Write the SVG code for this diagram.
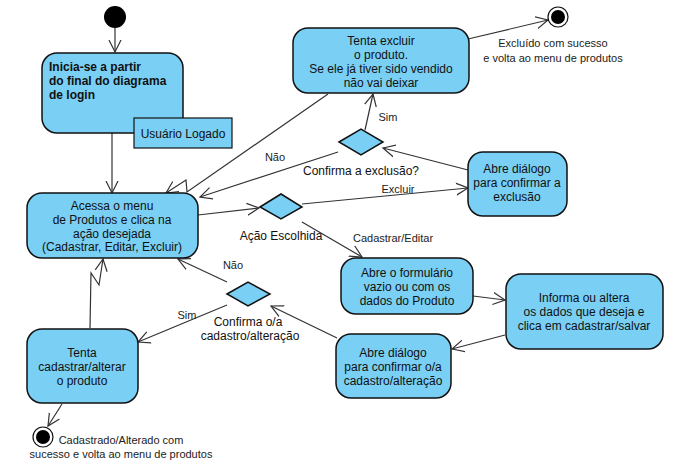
<svg xmlns="http://www.w3.org/2000/svg" width="674" height="465" viewBox="0 0 674 465">
<defs>
<style>
.node{fill:#7acff4;stroke:#111;stroke-width:1.5}
.t{font-family:"Liberation Sans",Arial,sans-serif;font-size:12px;fill:#111;text-anchor:middle}
.b{font-weight:bold;text-anchor:start}
.l{font-family:"Liberation Sans",Arial,sans-serif;font-size:11px;fill:#222;text-anchor:middle}
.e{fill:none;stroke:#333;stroke-width:1.2}
</style>
<marker id="arr" markerUnits="userSpaceOnUse" markerWidth="14" markerHeight="14" refX="12" refY="6" orient="auto" viewBox="0 0 14 12">
<path d="M0,0 L12,6 L0,12" fill="none" stroke="#333" stroke-width="1.2"/>
</marker>
</defs>

<g id="connectors">
<line class="e" x1="115" y1="28" x2="115" y2="52" marker-end="url(#arr)"/>
<line class="e" x1="112" y1="133" x2="112" y2="193" marker-end="url(#arr)"/>
<polyline class="e" points="328,94 187,192 186,180 166,193" marker-end="url(#arr)"/>
<line class="e" x1="338" y1="152" x2="200" y2="197" marker-end="url(#arr)"/>
<line class="e" x1="198" y1="215" x2="259" y2="208" marker-end="url(#arr)"/>
<line class="e" x1="302" y1="204" x2="468" y2="188" marker-end="url(#arr)"/>
<line class="e" x1="302" y1="222" x2="362" y2="257" marker-end="url(#arr)"/>
<line class="e" x1="468" y1="170" x2="383" y2="148" marker-end="url(#arr)"/>
<line class="e" x1="365" y1="130" x2="373" y2="94" marker-end="url(#arr)"/>
<line class="e" x1="468" y1="39" x2="548" y2="20" marker-end="url(#arr)"/>
<line class="e" x1="473" y1="296" x2="505" y2="300" marker-end="url(#arr)"/>
<line class="e" x1="505" y1="335" x2="452" y2="349" marker-end="url(#arr)"/>
<line class="e" x1="337" y1="338" x2="271" y2="306" marker-end="url(#arr)"/>
<line class="e" x1="227" y1="282" x2="178" y2="259" marker-end="url(#arr)"/>
<line class="e" x1="227" y1="305" x2="138" y2="342" marker-end="url(#arr)"/>
<polyline class="e" points="90,328 91,273 99,285 103,259" marker-end="url(#arr)"/>
<line class="e" x1="62" y1="404" x2="48" y2="426" marker-end="url(#arr)"/>
</g>

<g id="start"><circle cx="115" cy="17" r="11" fill="#000"/></g>

<g id="inicia">
<rect class="node" x="42" y="53" width="141" height="80" rx="15"/>
<text class="t b" x="49" y="71">Inicia-se a partir</text>
<text class="t b" x="49" y="85">do final do diagrama</text>
<text class="t b" x="49" y="99">de login</text>
</g>
<g id="usuario">
<rect x="134" y="118" width="98" height="30" fill="#7acff4" stroke="#111" stroke-width="1.2"/>
<text class="t" x="183" y="138">Usuário Logado</text>
</g>

<g id="acessa">
<rect class="node" x="27" y="193" width="171" height="65" rx="15"/>
<text class="t" x="112" y="210">Acessa o menu</text>
<text class="t" x="112" y="224">de Produtos e clica na</text>
<text class="t" x="112" y="238">ação desejada</text>
<text class="t" x="112" y="251">(Cadastrar, Editar, Excluir)</text>
</g>

<g id="tentaExcluir">
<rect class="node" x="293" y="28" width="176" height="65" rx="15"/>
<text class="t" x="381" y="45">Tenta excluir</text>
<text class="t" x="381" y="59">o produto.</text>
<text class="t" x="381" y="73">Se ele já tiver sido vendido</text>
<text class="t" x="381" y="87">não vai deixar</text>
</g>

<g id="fimExcluir">
<circle cx="558" cy="17" r="10" fill="#fff" stroke="#111" stroke-width="1.2"/>
<circle cx="558" cy="17" r="7" fill="#000"/>
<text class="l" x="553" y="47">Excluído com sucesso</text>
<text class="l" x="553" y="62">e volta ao menu de produtos</text>
</g>

<g id="confirmaExclusao">
<polygon points="339,142 361,129 383,142 361,155" class="node" stroke-width="1.2"/>
<text class="t" x="361" y="175">Confirma a exclusão?</text>
<text class="l" x="388" y="121">Sim</text>
<text class="l" x="275" y="161">Não</text>
</g>

<g id="dialogoExclusao">
<rect class="node" x="468" y="152" width="99" height="64" rx="15"/>
<text class="t" x="517" y="173">Abre diálogo</text>
<text class="t" x="517" y="187">para confirmar a</text>
<text class="t" x="517" y="201">exclusão</text>
</g>

<g id="acaoEscolhida">
<polygon points="260,207 281,194 302,207 281,219" class="node" stroke-width="1.2"/>
<text class="t" x="281" y="240">Ação Escolhida</text>
<text class="l" x="398" y="193">Excluir</text>
<text class="l" x="393" y="242">Cadastrar/Editar</text>
</g>

<g id="formulario">
<rect class="node" x="341" y="258" width="132" height="56" rx="15"/>
<text class="t" x="407" y="277">Abre o formulário</text>
<text class="t" x="407" y="291">vazio ou com os</text>
<text class="t" x="407" y="305">dados do Produto</text>
</g>

<g id="informa">
<rect class="node" x="506" y="274" width="157" height="75" rx="15"/>
<text class="t" x="584" y="302">Informa ou altera</text>
<text class="t" x="584" y="316">os dados que deseja e</text>
<text class="t" x="584" y="330">clica em cadastrar/salvar</text>
</g>

<g id="dialogoCadastro">
<rect class="node" x="336" y="334" width="115" height="64" rx="15"/>
<text class="t" x="393" y="357">Abre diálogo</text>
<text class="t" x="393" y="371">para confirmar o/a</text>
<text class="t" x="393" y="385">cadastro/alteração</text>
</g>

<g id="confirmaCadastro">
<polygon points="227,294 248,282 270,294 248,306" class="node" stroke-width="1.2"/>
<text class="t" x="248" y="326">Confirma o/a</text>
<text class="t" x="250" y="340">cadastro/alteração</text>
<text class="l" x="233" y="269">Não</text>
<text class="l" x="187" y="319">Sim</text>
</g>

<g id="tentaCadastrar">
<rect class="node" x="27" y="329" width="111" height="74" rx="15"/>
<text class="t" x="82" y="357">Tenta</text>
<text class="t" x="82" y="371">cadastrar/alterar</text>
<text class="t" x="82" y="385">o produto</text>
</g>

<g id="fimCadastro">
<circle cx="43" cy="437" r="10" fill="#fff" stroke="#111" stroke-width="1.2"/>
<circle cx="43" cy="437" r="7" fill="#000"/>
<text class="l" x="121" y="444">Cadastrado/Alterado com</text>
<text class="l" x="121" y="458">sucesso e volta ao menu de produtos</text>
</g>
</svg>
